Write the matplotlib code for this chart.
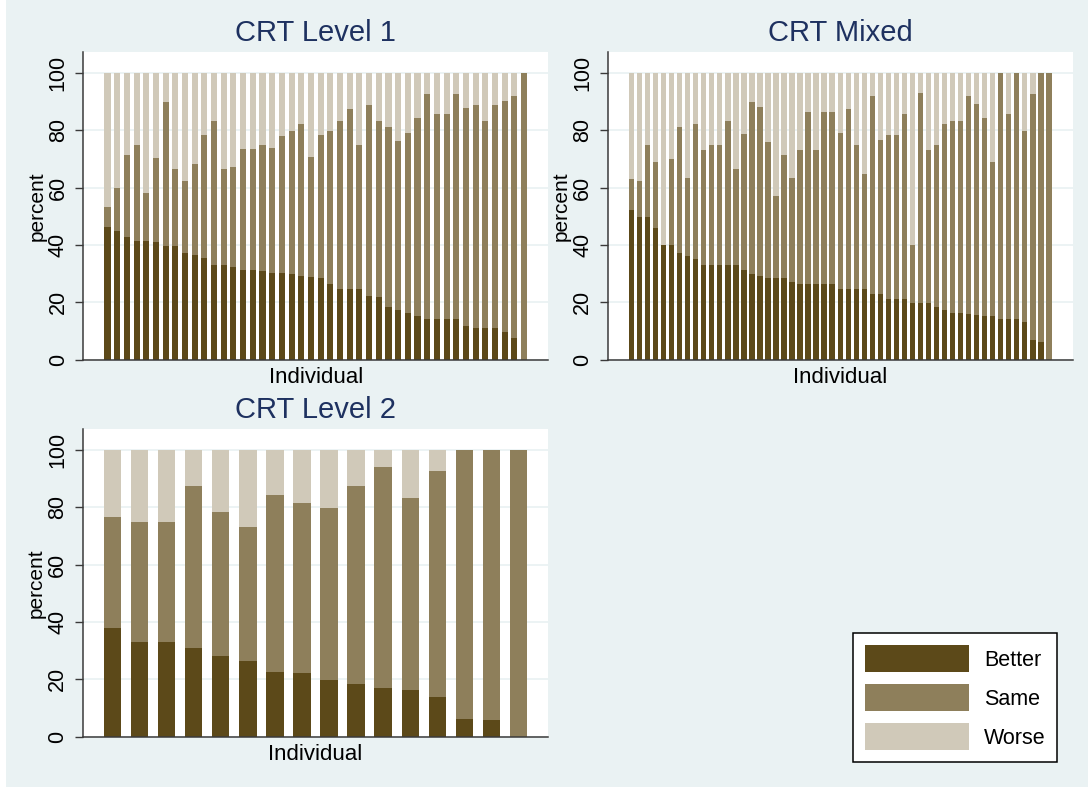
import matplotlib
matplotlib.use("Agg")
import matplotlib.pyplot as plt
from matplotlib.patches import Patch, Rectangle
import numpy as np

plt.rcParams['font.family'] = ['Liberation Sans', 'DejaVu Sans']

# share of decisions (percent) per individual, sorted by "Better"
lvl1_better = [46.4, 44.9, 42.8, 41.4, 41.4, 41.0, 39.6, 39.6, 37.2, 36.5, 35.4,
               33.0, 33.0, 32.3, 31.2, 31.2, 30.9, 30.2, 30.2, 29.8, 29.1, 28.8,
               28.4, 26.3, 24.6, 24.6, 24.6, 22.1, 21.8, 18.3, 17.2, 16.2, 15.2,
               14.1, 14.1, 14.1, 14.1, 11.7, 11.0, 11.0, 11.0, 9.6, 7.5, 0.0]
lvl1_same = [7.0, 15.1, 28.6, 33.5, 16.9, 29.4, 50.4, 27.0, 25.2, 31.8, 43.0,
             50.3, 33.6, 34.9, 42.3, 42.3, 44.0, 43.7, 47.9, 50.0, 53.2, 41.9,
             50.0, 53.5, 58.7, 62.9, 50.3, 66.8, 61.5, 62.9, 59.1, 62.9, 69.2,
             78.7, 71.7, 71.7, 78.7, 76.2, 77.9, 72.3, 77.9, 80.7, 84.6, 100.0]

mixed_better = [52.2, 49.8, 49.8, 45.9, 40.0, 40.0, 37.2, 36.1, 35.1, 33.0, 33.0,
                33.0, 33.0, 33.0, 31.2, 29.8, 29.1, 28.4, 28.4, 28.4, 27.0, 26.3,
                26.3, 26.3, 26.3, 26.3, 24.6, 24.6, 24.6, 24.6, 22.8, 22.8, 21.1,
                21.1, 21.1, 19.7, 19.7, 19.7, 18.3, 17.2, 16.2, 16.2, 15.9, 15.5,
                15.2, 15.2, 14.1, 14.1, 14.1, 13.1, 6.8, 6.1, 0.0]
mixed_same = [10.9, 12.6, 25.1, 23.1, 0.0, 30.0, 44.0, 27.3, 47.2, 40.2, 41.9,
              41.9, 50.3, 33.6, 47.6, 60.2, 59.1, 47.6, 28.7, 43.0, 36.4, 46.9,
              60.2, 46.9, 60.2, 60.2, 54.5, 62.9, 50.3, 40.2, 69.3, 53.9, 57.3,
              57.3, 64.7, 20.3, 73.4, 53.5, 56.6, 65.1, 67.1, 67.1, 76.2, 73.8,
              69.2, 53.8, 85.9, 71.7, 85.9, 66.7, 86.0, 93.9, 100.0]

lvl2_better = [38.1, 32.9, 32.9, 30.8, 28.3, 26.3, 22.7, 22.4, 19.7, 18.5, 17.1,
               16.4, 14.0, 6.3, 5.9, 0.0]
lvl2_same = [38.5, 41.9, 41.9, 56.6, 50.0, 46.8, 61.6, 59.1, 60.0, 68.9, 77.0,
             66.8, 78.7, 93.7, 94.1, 100.0]

labels = ["Better", "Same", "Worse"]
colors = ["#5C4919", "#8E7F5B", "#D0C9B9"]
bg = "#EAF2F3"
navy = "#1E3160"
W, H = 1088, 789

fig = plt.figure(figsize=(W / 100, H / 100), dpi=100, facecolor=bg)
fig.patches.append(Rectangle((0, 0), 6 / W, 1, transform=fig.transFigure,
                             facecolor="white", edgecolor="none", zorder=-1))
fig.patches.append(Rectangle((0, 0), 1, 2 / H, transform=fig.transFigure,
                             facecolor="white", edgecolor="none", zorder=-1))


def panel(box, title, better, same, width):
    l, t, r, b = box
    ax = fig.add_axes([l / W, 1 - b / H, (r - l) / W, (b - t) / H])
    better = np.array(better)
    same = np.array(same)
    worse = 100 - better - same
    x = np.arange(len(better))
    ax.bar(x, better, width, color=colors[0], linewidth=0)
    ax.bar(x, same, width, bottom=better, color=colors[1], linewidth=0)
    ax.bar(x, worse, width, bottom=better + same, color=colors[2], linewidth=0)
    ax.margins(x=0.05)
    ax.set_ylim(0, 107.5)
    ax.set_yticks([0, 20, 40, 60, 80, 100])
    ax.set_xticks([])
    ax.tick_params(axis='y', labelrotation=90, labelsize=15.5, length=5.5,
                   width=1, color="#3a3a3a", pad=5)
    for lab in ax.get_yticklabels():
        lab.set_va("center")
    ax.yaxis.grid(True, color=bg, lw=1.3)
    ax.set_axisbelow(True)
    for s in ["top", "right"]:
        ax.spines[s].set_visible(False)
    for s in ["left", "bottom"]:
        ax.spines[s].set_color("#3a3a3a")
        ax.spines[s].set_linewidth(1.1)
    ax.set_ylabel("percent", fontsize=15, labelpad=1)
    ax.set_xlabel("Individual", fontsize=16, labelpad=5)
    ax.set_title(title, fontsize=21, color=navy, pad=7.5)
    return ax


panel((83.3, 51.7, 548.3, 359.7), "CRT Level 1", lvl1_better, lvl1_same, 0.63)
panel((607.7, 51.7, 1072.7, 359.7), "CRT Mixed", mixed_better, mixed_same, 0.67)
panel((82.7, 428.7, 548.3, 736.7), "CRT Level 2", lvl2_better, lvl2_same, 0.64)

handles = [Patch(facecolor=c, edgecolor="none") for c in colors]
leg = fig.legend(handles, labels, loc="upper left",
                 bbox_to_anchor=(853.3 / W, 1 - 633.3 / H), fontsize=15.5,
                 handlelength=4.82, handleheight=1.525, labelspacing=0.58,
                 handletextpad=0.7, borderpad=0.55, borderaxespad=0,
                 fancybox=False, framealpha=1, edgecolor="black")
leg.get_frame().set_linewidth(1.1)

fig.savefig("out.png", dpi=100, facecolor=bg)
